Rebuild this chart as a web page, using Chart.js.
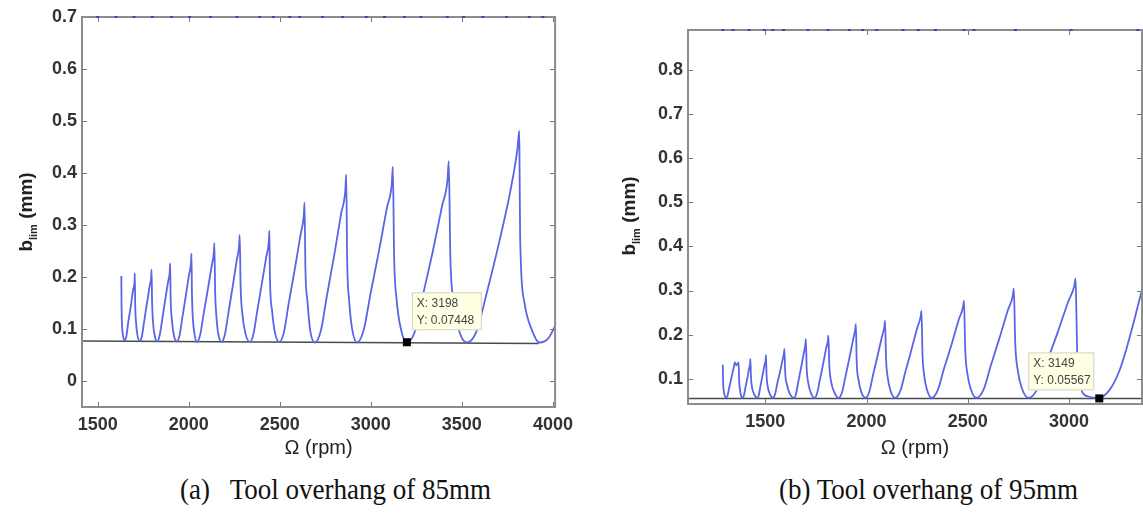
<!DOCTYPE html>
<html>
<head>
<meta charset="utf-8">
<script src="https://cdn.jsdelivr.net/npm/chart.js@4.4.0/dist/chart.umd.min.js"></script>
<style>
    body { margin: 0; background: #fff; width: 1143px; height: 517px; position: relative; overflow: hidden; }
    canvas { position: absolute; top: 0; }
    #chartA { left: 0; }
    #chartB { left: 600px; }
    .caption { position: absolute; top: 474px; font-family: "Liberation Serif", serif; font-size: 30px; line-height: 1;
               color: #111; white-space: pre; transform: scaleX(0.9); transform-origin: 0 0; }
</style>
</head>
<body>
<canvas id="chartA" width="580" height="460"></canvas>
<canvas id="chartB" width="543" height="460"></canvas>
<div class="caption" style="left:180px">(a)   Tool overhang of 85mm</div>
<div class="caption" style="left:779px">(b) Tool overhang of 95mm</div>

<script>
// (a) tool overhang 85mm - stability lobes
const omegaA = [
    1630, 1631, 1633, 1638, 1647, 1658, 1668, 1683, 1695, 1703, 1704,
    1706, 1711, 1718, 1730, 1743, 1755, 1771, 1785, 1794, 1796,
    1799, 1804, 1813, 1827, 1840, 1854, 1871, 1887, 1896, 1898,
    1901, 1908, 1918, 1935, 1950, 1965, 1985, 2002, 2013, 2015,
    2018, 2023, 2032, 2045, 2063, 2081, 2105, 2126, 2138, 2141,
    2145, 2152, 2162, 2180, 2199, 2218, 2243, 2264, 2277, 2280,
    2285, 2295, 2311, 2336, 2356, 2376, 2403, 2426, 2440, 2443,
    2446, 2458, 2473, 2497, 2523, 2549, 2584, 2614, 2632, 2636,
    2641, 2652, 2667, 2693, 2726, 2758, 2801, 2837, 2860, 2865,
    2870, 2881, 2897, 2924, 2961, 2998, 3047, 3089, 3115, 3121,
    3128, 3142, 3164, 3199, 3243, 3285, 3342, 3391, 3421, 3428,
    3437, 3455, 3482, 3527, 3581, 3635, 3707, 3770, 3806, 3815,
    3817, 3820, 3842, 3887, 3926, 3977, 4012
];
const blimA = [
    0.202, 0.150, 0.115, 0.090, 0.078, 0.087, 0.113, 0.146, 0.176, 0.194, 0.207,
    0.150, 0.112, 0.089, 0.077, 0.086, 0.114, 0.150, 0.182, 0.200, 0.214,
    0.152, 0.113, 0.088, 0.076, 0.087, 0.117, 0.156, 0.191, 0.211, 0.226,
    0.158, 0.116, 0.089, 0.076, 0.088, 0.122, 0.166, 0.205, 0.229, 0.245,
    0.166, 0.120, 0.090, 0.075, 0.089, 0.127, 0.176, 0.221, 0.247, 0.265,
    0.175, 0.125, 0.091, 0.075, 0.090, 0.131, 0.185, 0.233, 0.261, 0.281,
    0.183, 0.128, 0.092, 0.075, 0.091, 0.134, 0.190, 0.239, 0.268, 0.289,
    0.200, 0.135, 0.094, 0.075, 0.094, 0.149, 0.218, 0.281, 0.318, 0.343,
    0.215, 0.154, 0.098, 0.074, 0.097, 0.162, 0.246, 0.322, 0.366, 0.397,
    0.236, 0.155, 0.101, 0.074, 0.098, 0.167, 0.254, 0.334, 0.378, 0.412,
    0.240, 0.156, 0.102, 0.0745, 0.096, 0.163, 0.252, 0.336, 0.386, 0.423,
    0.237, 0.154, 0.100, 0.074, 0.096, 0.167, 0.270, 0.372, 0.449, 0.481,
    0.410, 0.280, 0.154, 0.096, 0.074, 0.083, 0.106
];
const limitOmegaA = [1414, 3922];
const limitBlimA = [0.077, 0.072];
// points lying above the axis limit, seen as specks on the top edge
const topMarksA = [1500, 1600, 1700, 1800, 1905, 2005, 2120, 2265, 2390, 2465, 2555, 2610,
                   2735, 2845, 2975, 3075, 3185, 3275, 3420, 3510, 3615, 3745, 3870, 3945];
const xTicksA = [1500, 2000, 2500, 3000, 3500, 4000];
const yTicksA = [0, 0.1, 0.2, 0.3, 0.4, 0.5, 0.6, 0.7];
const tipA = { x: 3198, y: 0.07448 };

// (b) tool overhang 95mm
const omegaB = [
    1290, 1291, 1294, 1299, 1307, 1314, 1321, 1331, 1340, 1346, 1349, 1358, 1368,
    1370, 1374, 1379, 1388, 1395, 1402, 1412, 1420, 1425, 1426,
    1429, 1435, 1445, 1460, 1468, 1476, 1487, 1496, 1502, 1503,
    1506, 1512, 1522, 1537, 1548, 1558, 1573, 1585, 1592, 1594,
    1598, 1607, 1620, 1641, 1652, 1663, 1678, 1691, 1698, 1700,
    1704, 1712, 1724, 1743, 1756, 1769, 1786, 1800, 1809, 1811,
    1816, 1825, 1840, 1863, 1879, 1895, 1916, 1934, 1944, 1947,
    1951, 1960, 1973, 1995, 2013, 2031, 2055, 2076, 2088, 2091,
    2096, 2105, 2119, 2141, 2166, 2190, 2222, 2250, 2267, 2271,
    2276, 2285, 2299, 2321, 2351, 2381, 2421, 2455, 2476, 2481,
    2487, 2498, 2515, 2543, 2578, 2612, 2658, 2698, 2722, 2727,
    2734, 2747, 2767, 2800, 2844, 2887, 2945, 2995, 3025, 3032,
    3036, 3040, 3050, 3065, 3095, 3145, 3200, 3250, 3282, 3320, 3360
];
const blimB = [
    0.132, 0.100, 0.075, 0.063, 0.057, 0.063, 0.079, 0.099, 0.118, 0.130, 0.137, 0.131, 0.137,
    0.100, 0.078, 0.064, 0.057, 0.064, 0.081, 0.104, 0.124, 0.136, 0.145,
    0.103, 0.079, 0.065, 0.057, 0.064, 0.084, 0.110, 0.132, 0.145, 0.154,
    0.108, 0.082, 0.066, 0.057, 0.065, 0.088, 0.117, 0.143, 0.158, 0.168,
    0.115, 0.086, 0.067, 0.057, 0.067, 0.094, 0.129, 0.161, 0.179, 0.190,
    0.125, 0.091, 0.069, 0.057, 0.068, 0.097, 0.135, 0.169, 0.187, 0.198,
    0.130, 0.093, 0.070, 0.057, 0.070, 0.104, 0.149, 0.190, 0.212, 0.224,
    0.140, 0.098, 0.071, 0.057, 0.070, 0.107, 0.154, 0.196, 0.219, 0.232,
    0.146, 0.101, 0.072, 0.057, 0.072, 0.113, 0.167, 0.215, 0.241, 0.254,
    0.157, 0.106, 0.074, 0.057, 0.074, 0.121, 0.180, 0.234, 0.262, 0.277,
    0.167, 0.111, 0.076, 0.057, 0.076, 0.128, 0.195, 0.256, 0.288, 0.305,
    0.181, 0.118, 0.078, 0.057, 0.078, 0.134, 0.207, 0.274, 0.309, 0.327,
    0.250, 0.160, 0.100, 0.070, 0.060, 0.057, 0.075, 0.120, 0.166, 0.230, 0.302
];
const limitOmegaB = [1118, 3360];
const limitBlimB = [0.0557, 0.0557];
const topMarksB = [1290, 1340, 1420, 1495, 1537, 1590, 1710, 1810, 1915, 1980, 2050,
                   2180, 2255, 2340, 2480, 2530, 2735, 3010, 3340];
const xTicksB = [1500, 2000, 2500, 3000];
const yTicksB = [0.1, 0.2, 0.3, 0.4, 0.5, 0.6, 0.7, 0.8];
const tipB = { x: 3149, y: 0.05567 };

const lobeColor = '#5a64e6';
const tickFont = { family: 'Liberation Sans', size: 18, weight: 'bold' };

function toPoints(xs, ys) {
    return xs.map((x, i) => ({ x: x, y: ys[i] }));
}

// MATLAB-like box, inward ticks, axis titles and data tip
const framePlugin = {
    id: 'matlabFrame',
    afterDatasetsDraw(chart, args, opts) {
        const ctx = chart.ctx;
        const a = chart.chartArea;
        const xs = chart.scales.x, ys = chart.scales.y;
        ctx.save();

        ctx.strokeStyle = '#777';
        ctx.lineWidth = 1;
        ctx.beginPath();
        xs.ticks.forEach(t => {
            const px = Math.round(xs.getPixelForValue(t.value)) + 0.5;
            ctx.moveTo(px, a.bottom); ctx.lineTo(px, a.bottom - 5);
            ctx.moveTo(px, a.top); ctx.lineTo(px, a.top + 5);
        });
        ys.ticks.forEach(t => {
            const py = Math.round(ys.getPixelForValue(t.value)) + 0.5;
            ctx.moveTo(a.left, py); ctx.lineTo(a.left + 5, py);
            ctx.moveTo(a.right, py); ctx.lineTo(a.right - 5, py);
        });
        ctx.stroke();

        ctx.strokeStyle = '#8c8c8c';
        ctx.lineWidth = 2;
        ctx.strokeRect(a.left, a.top, a.right - a.left, a.bottom - a.top);

        // specks of clipped points along the top edge
        ctx.fillStyle = '#3a46b8';
        opts.topMarks.forEach(v => {
            const px = xs.getPixelForValue(v);
            ctx.fillRect(px - 1.5, a.top - 1, 3, 2);
        });

        // data tip
        const tip = opts.tip;
        const mx = xs.getPixelForValue(tip.x), my = ys.getPixelForValue(tip.y);
        ctx.fillStyle = '#000';
        ctx.fillRect(mx - 4, my - 4, 8, 8);
        const bw = tip.w, bh = 38;
        const bx = tip.side === 'right' ? mx + 5 : mx - 5 - bw;
        const by = my - tip.lift - bh;
        ctx.fillStyle = '#ffffe4';
        ctx.strokeStyle = '#d2d2c0';
        ctx.lineWidth = 1;
        ctx.fillRect(bx, by, bw, bh);
        ctx.strokeRect(bx + 0.5, by + 0.5, bw - 1, bh - 1);
        ctx.fillStyle = '#444';
        ctx.font = '12px "Liberation Sans"';
        ctx.textBaseline = 'middle';
        ctx.textAlign = 'left';
        ctx.fillText('X: ' + tip.x, bx + 5, by + 11);
        ctx.fillText('Y: ' + tip.y, bx + 5, by + 28);

        // axis titles
        ctx.fillStyle = '#222';
        ctx.textAlign = 'center';
        ctx.textBaseline = 'middle';
        ctx.font = '20px "Liberation Sans"';
        ctx.fillText('\u03A9 (rpm)', (a.left + a.right) / 2, opts.xTitleY);

        ctx.translate(opts.yTitleX, opts.yTitleY);
        ctx.rotate(-Math.PI / 2);
        const big = 'bold 19px "Liberation Sans"', small = 'bold 11px "Liberation Sans"';
        ctx.font = big;
        const wb = ctx.measureText('b').width, wm = ctx.measureText(' (mm)').width;
        ctx.font = small;
        const wl = ctx.measureText('lim').width;
        let cx = -(wb + wl + wm) / 2;
        ctx.textAlign = 'left';
        ctx.textBaseline = 'alphabetic';
        ctx.font = big;
        ctx.fillText('b', cx, 6);
        cx += wb;
        ctx.font = small;
        ctx.fillText('lim', cx, 11);
        cx += wl;
        ctx.font = big;
        ctx.fillText(' (mm)', cx, 6);
        ctx.restore();
    }
};

function makeChart(id, cfg) {
    const ctx = document.getElementById(id).getContext('2d');
    return new Chart(ctx, {
        type: 'line',
        data: {
            datasets: [
                {
                    data: toPoints(cfg.omega, cfg.blim),
                    borderColor: lobeColor,
                    borderWidth: 1.8,
                    pointRadius: 0,
                    cubicInterpolationMode: 'monotone',
                    order: 1
                },
                {
                    data: toPoints(cfg.limitOmega, cfg.limitBlim),
                    borderColor: '#4a4a4a',
                    borderWidth: 1.5,
                    pointRadius: 0,
                    order: 2
                }
            ]
        },
        options: {
            responsive: false,
            animation: false,
            layout: { padding: cfg.padding },
            plugins: {
                legend: { display: false },
                tooltip: { enabled: false },
                matlabFrame: cfg.frame
            },
            scales: {
                x: {
                    type: 'linear',
                    min: cfg.xRange[0],
                    max: cfg.xRange[1],
                    grid: { display: false, drawTicks: false },
                    border: { display: false },
                    afterBuildTicks: s => { s.ticks = cfg.xTicks.map(v => ({ value: v })); },
                    afterFit: s => { s.height = cfg.xAxisHeight; },
                    ticks: { font: tickFont, color: '#333', padding: 7, maxRotation: 0, autoSkip: false,
                             callback: v => String(v) }
                },
                y: {
                    min: cfg.yRange[0],
                    max: cfg.yRange[1],
                    grid: { display: false, drawTicks: false },
                    border: { display: false },
                    afterBuildTicks: s => { s.ticks = cfg.yTicks.map(v => ({ value: v })); },
                    afterFit: s => { s.width = cfg.yAxisWidth; },
                    ticks: { font: tickFont, color: '#333', padding: 5, autoSkip: false,
                             callback: v => v === 0 ? '0' : v.toFixed(1) }
                }
            }
        },
        plugins: [framePlugin]
    });
}

makeChart('chartA', {
    omega: omegaA, blim: blimA,
    limitOmega: limitOmegaA, limitBlim: limitBlimA,
    xTicks: xTicksA, yTicks: yTicksA,
    xRange: [1414, 4012], yRange: [-0.05, 0.7],
    padding: { top: 17, right: 17, left: 0, bottom: 0 },
    yAxisWidth: 82, xAxisHeight: 53,
    frame: { tip: Object.assign({ side: 'right', w: 70, lift: 12 }, tipA), topMarks: topMarksA,
             xTitleY: 448, yTitleX: 26, yTitleY: 212 }
});

makeChart('chartB', {
    omega: omegaB, blim: blimB,
    limitOmega: limitOmegaB, limitBlim: limitBlimB,
    xTicks: xTicksB, yTicks: yTicksB,
    xRange: [1118, 3360], yRange: [0.043, 0.89],
    padding: { top: 30, right: 1, left: 0, bottom: 0 },
    yAxisWidth: 88, xAxisHeight: 56,
    frame: { tip: Object.assign({ side: 'left', w: 66, lift: 8 }, tipB), topMarks: topMarksB,
             xTitleY: 448, yTitleX: 29, yTitleY: 216 }
});
</script>
</body>
</html>
